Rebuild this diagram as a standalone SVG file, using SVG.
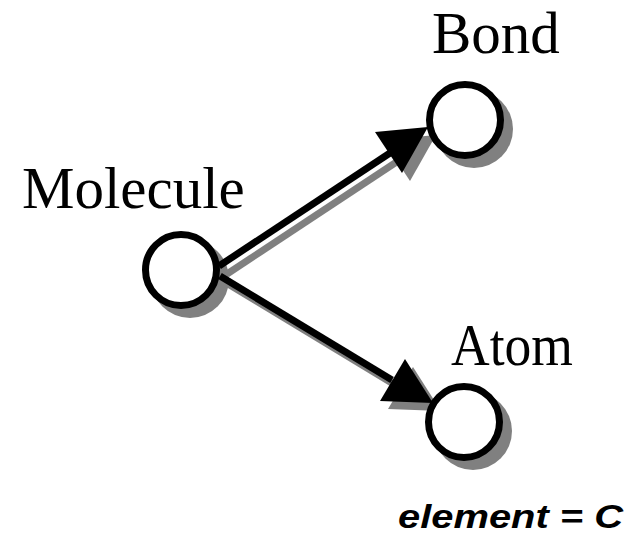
<svg xmlns="http://www.w3.org/2000/svg" width="631" height="536" viewBox="0 0 631 536">
<style>
.lbl{font-family:"Liberation Serif","Times New Roman",serif;font-size:59px;fill:#000}
.note{font-family:"Liberation Sans",Arial,sans-serif;font-size:34px;font-weight:bold;font-style:italic;fill:#000}
.sh{fill:#808080;stroke:none}
.shl{stroke:#808080;stroke-width:7;fill:none}
.ln{stroke:#000;stroke-width:7;fill:none}
.hd{fill:#000;stroke:none}
.node{fill:#fff;stroke:#000;stroke-width:7}
</style>
<rect width="631" height="536" fill="#fff"/>
<g id="shadows">
<circle class="sh" cx="190" cy="279" r="39"/>
<circle class="sh" cx="474" cy="129" r="39"/>
<circle class="sh" cx="473" cy="431" r="39"/>
<line class="shl" x1="227" y1="274" x2="398" y2="161"/>
<polygon class="sh" points="436,135 383,140 410,181"/>
<line class="shl" x1="228" y1="284" x2="400" y2="388"/>
<polygon class="sh" points="441,411 413,367 388,409"/>
</g>
<g id="connectors">
<line class="ln" x1="219" y1="266" x2="390" y2="153"/>
<polygon class="hd" points="428,127 375,132 402,173"/>
<line class="ln" x1="220" y1="276" x2="392" y2="380"/>
<polygon class="hd" points="433,403 405,359 380,401"/>
</g>
<g id="molecule">
<circle class="node" cx="181" cy="270" r="35.5"/>
<text class="lbl" x="22" y="208">Molecule</text>
</g>
<g id="bond">
<circle class="node" cx="465" cy="120" r="35.5"/>
<text class="lbl" x="432" y="53">Bond</text>
</g>
<g id="atom">
<circle class="node" cx="464" cy="422" r="35.5"/>
<text class="lbl" x="451" y="365" textLength="122" lengthAdjust="spacingAndGlyphs">Atom</text>
</g>
<text class="note" x="398" y="528" textLength="225" lengthAdjust="spacingAndGlyphs">element = C</text>
</svg>
